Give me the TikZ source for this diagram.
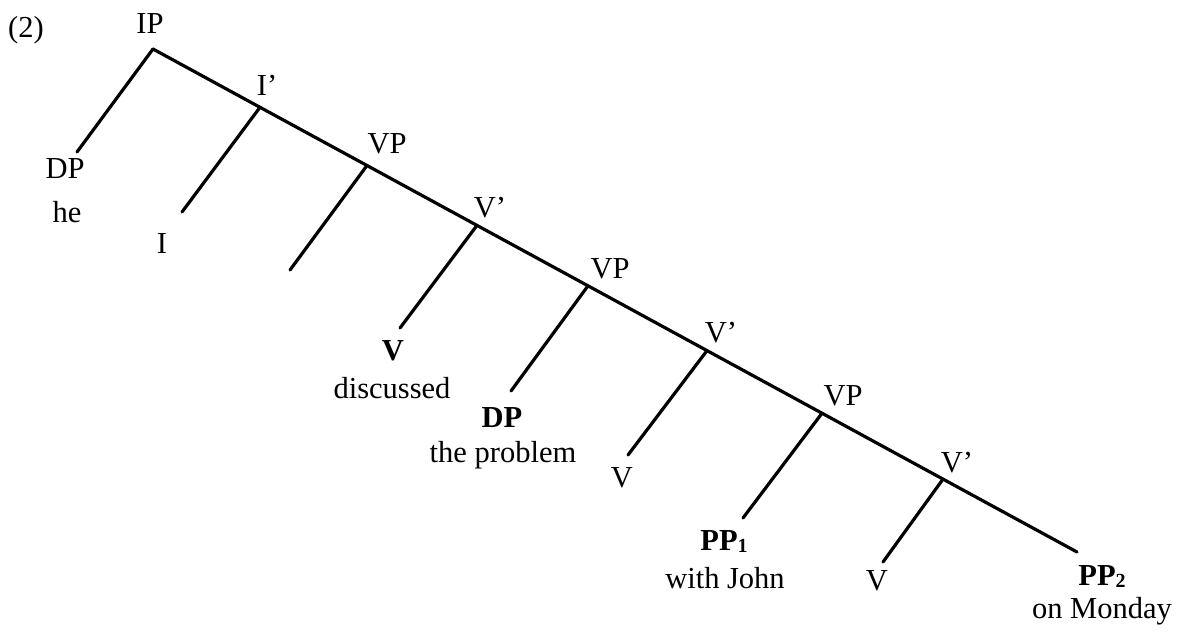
\documentclass[tikz,border=0pt]{standalone}
\usepackage{fontspec}
\setmainfont{Liberation Serif}
\begin{document}
\begin{tikzpicture}[x=1pt,y=-1pt,
  lab/.style={anchor=base,inner sep=0pt,font=\fontsize{30.5}{36}\selectfont},
  blab/.style={lab,font=\fontsize{30.5}{36}\selectfont\bfseries},
  branch/.style={line width=3.2pt,line cap=round}]
\useasboundingbox (0,0) rectangle (1179,633);
% spine junctions
\coordinate (ip) at (153,49);
\coordinate (ib) at (260,107.3);
\coordinate (vp1) at (367,165.5);
\coordinate (vb1) at (477,225.4);
\coordinate (vp2) at (588,285.8);
\coordinate (vb2) at (707,350.6);
\coordinate (vp3) at (822,413.2);
\coordinate (vb3) at (943,479.1);
\coordinate (end) at (1077,552);
% branch ends
\coordinate (e0) at (77,152);
\coordinate (e1) at (182,212);
\coordinate (e2) at (290,270);
\coordinate (e3) at (400,328);
\coordinate (e4) at (511,391);
\coordinate (e5) at (628,455);
\coordinate (e6) at (743,518);
\coordinate (e7) at (883,562);
% lines
\draw[branch] (ip) -- (ib) -- (vp1) -- (vb1) -- (vp2) -- (vb2) -- (vp3) -- (vb3) -- (end);
\draw[branch] (ip) -- (e0);
\draw[branch] (ib) -- (e1);
\draw[branch] (vp1) -- (e2);
\draw[branch] (vb1) -- (e3);
\draw[branch] (vp2) -- (e4);
\draw[branch] (vb2) -- (e5);
\draw[branch] (vp3) -- (e6);
\draw[branch] (vb3) -- (e7);
% labels
\node[lab] (num) at (26,37) {(2)};
\node[lab] (lip) at (150,33) {IP};
\node[lab] (lib) at (267,95) {I’};
\node[lab] (lvp1) at (387,153) {VP};
\node[lab] (ldp) at (65,178) {DP};
\node[lab] (lhe) at (67,222) {he};
\node[lab] (li) at (162,253) {I};
\node[lab] (lvb1) at (490,217) {V’};
\node[blab] (lv) at (393,360) {V};
\node[lab] (ldisc) at (392,398) {discussed};
\node[lab] (lvp2) at (610,278) {VP};
\node[blab] (ldp2) at (502,427) {DP};
\node[lab] (lprob) at (503,462) {the problem};
\node[lab] (lvb2) at (721,342) {V’};
\node[lab] (lv2) at (622,487) {V};
\node[lab] (lvp3) at (843,405) {VP};
\node[blab] (lpp1) at (724,550) {PP\raisebox{-0.2ex}{\fontsize{20}{20}\selectfont\bfseries 1}};
\node[lab] (ljohn) at (725,588) {with John};
\node[lab] (lvb3) at (957,472) {V’};
\node[lab] (lv3) at (877,590) {V};
\node[blab] (lpp2) at (1102,585) {PP\raisebox{-0.2ex}{\fontsize{20}{20}\selectfont\bfseries 2}};
\node[lab] (lmon) at (1102,618) {on Monday};
\end{tikzpicture}
\end{document}
